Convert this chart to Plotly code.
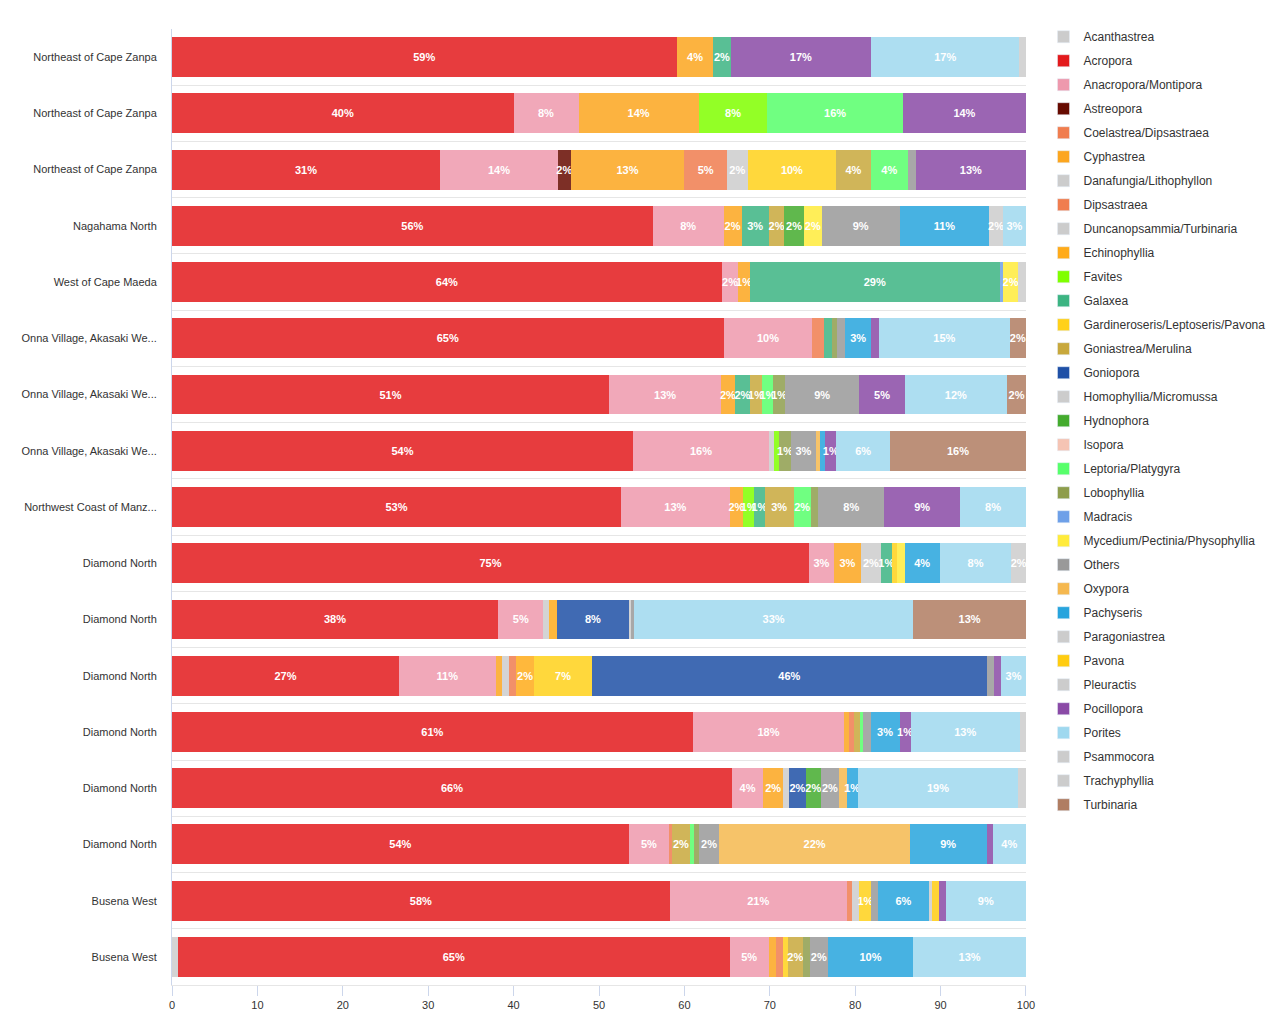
import plotly.graph_objects as go

sites = [
    "Northeast of Cape Zanpa", "Northeast of Cape Zanpa", "Northeast of Cape Zanpa",
    "Nagahama North", "West of Cape Maeda",
    "Onna Village, Akasaki We...", "Onna Village, Akasaki We...", "Onna Village, Akasaki We...",
    "Northwest Coast of Manz...",
    "Diamond North", "Diamond North", "Diamond North", "Diamond North", "Diamond North", "Diamond North",
    "Busena West", "Busena West",
]

# percent cover per genus, one value per site row (top to bottom)
acanthastrea   = [0, 0, 0, 0, 0, 0, 0, 0, 0, 0, 0, 0, 0, 0, 0, 0, 0.7]
acropora       = [59.1, 40.0, 31.4, 56.3, 64.4, 64.6, 51.2, 54.0, 52.6, 74.6, 38.2, 26.6, 61.0, 65.6, 53.5, 58.3, 64.6]
anacropora     = [0, 7.6, 13.8, 8.3, 1.9, 10.4, 13.1, 15.9, 12.7, 2.9, 5.3, 11.3, 17.7, 3.6, 4.7, 20.7, 4.6]
astreopora     = [0, 0, 1.5, 0, 0, 0, 0, 0, 0, 0, 0, 0, 0, 0, 0, 0, 0]
coelastrea     = [0, 0, 0, 0, 0, 0.5, 0, 0, 0, 0, 0, 0, 0, 0, 0, 0, 0]
cyphastrea     = [4.3, 14.1, 13.3, 2.1, 1.4, 0, 1.6, 0, 1.6, 3.2, 0, 0.8, 0.6, 2.4, 0, 0, 0.8]
danafungia     = [0, 0, 0, 0, 0, 0, 0, 0, 0, 0, 0, 0.8, 0, 0.7, 0, 0, 0]
dipsastraea    = [0, 0, 5.0, 0, 0, 0.9, 0, 0, 0, 0, 0, 0.8, 0.6, 0, 0.4, 0.6, 0.9]
duncanopsammia = [0, 0, 2.4, 0, 0, 0, 0, 0.6, 0, 2.3, 0.7, 0, 0, 0, 0, 0.9, 0]
echinophyllia  = [0, 0, 0, 0, 0, 0, 0, 0, 0, 0, 0.9, 2.1, 0, 0, 0, 0, 0]
favites        = [0, 8.0, 0, 0, 0, 0, 0, 0.6, 1.3, 0, 0, 0, 0, 0, 0, 0, 0]
galaxea        = [2.0, 0, 0, 3.2, 29.2, 0.9, 1.8, 0, 1.2, 1.3, 0, 0, 0, 0, 0, 0, 0]
gardineroseris = [0, 0, 10.4, 0, 0, 0, 0, 0, 0, 0.6, 0, 6.8, 0, 0, 0, 1.4, 0.5]
goniastrea     = [0, 0, 4.0, 1.8, 0, 0, 1.4, 0, 3.4, 0, 0, 0, 0.7, 0, 2.0, 0, 1.8]
goniopora      = [0, 0, 0, 0, 0, 0, 0, 0, 0, 0, 8.4, 46.2, 0, 1.9, 0, 0, 0]
homophyllia    = [0, 0, 0, 0, 0, 0, 0, 0, 0, 0, 0.3, 0, 0, 0, 0, 0, 0]
hydnophora     = [0, 0, 0, 2.3, 0, 0, 0, 0, 0, 0, 0, 0, 0, 1.8, 0, 0, 0]
isopora        = [0, 0, 0, 0, 0, 0, 0, 0, 0, 0, 0, 0, 0, 0, 0, 0, 0]
leptoria       = [0, 15.9, 4.4, 0, 0, 0, 1.3, 0, 2.0, 0, 0, 0, 0.3, 0, 0.5, 0, 0]
lobophyllia    = [0, 0, 0, 0, 0, 0.6, 1.4, 1.4, 0.9, 0, 0, 0, 0, 0, 0.6, 0, 0.8]
madracis       = [0, 0, 0, 0, 0.4, 0, 0, 0, 0, 0, 0, 0, 0, 0, 0, 0, 0]
mycedium       = [0, 0, 0, 2.1, 1.8, 0, 0, 0, 0, 0.9, 0, 0, 0, 0, 0, 0, 0]
others         = [0, 0, 0.9, 9.1, 0, 0.9, 8.7, 2.9, 7.7, 0, 0.3, 0.9, 0.9, 2.1, 2.4, 0.8, 2.1]
oxypora        = [0, 0, 0, 0, 0, 0, 0, 0.5, 0, 0, 0, 0, 0, 0.9, 22.3, 0, 0]
pachyseris     = [0, 0, 0, 10.5, 0, 3.1, 0, 0.6, 0, 4.1, 0, 0, 3.4, 1.3, 9.0, 5.9, 10.0]
paragoniastrea = [0, 0, 0, 1.6, 0, 0, 0, 0, 0, 0, 0, 0, 0, 0, 0, 0.4, 0]
pavona         = [0, 0, 0, 0, 0, 0, 0, 0, 0, 0, 0, 0, 0, 0, 0, 0.8, 0]
pleuractis     = [0, 0, 0, 0, 0, 0, 0, 0, 0, 0, 0, 0, 0, 0, 0, 0, 0]
pocillopora    = [16.5, 14.4, 12.9, 0, 0, 0.9, 5.3, 1.3, 8.9, 0, 0, 0.8, 1.3, 0, 0.7, 0.8, 0]
porites        = [17.3, 0, 0, 2.7, 0, 15.3, 12.0, 6.3, 7.7, 8.4, 32.7, 2.9, 12.8, 18.8, 3.9, 9.4, 13.2]
psammocora     = [0, 0, 0, 0, 0.9, 0, 0, 0, 0, 0, 0, 0, 0, 0, 0, 0, 0]
trachyphyllia  = [0.8, 0, 0, 0, 0, 0, 0, 0, 0, 1.7, 0, 0, 0.7, 0.9, 0, 0, 0]
turbinaria     = [0, 0, 0, 0, 0, 1.9, 2.2, 15.9, 0, 0, 13.2, 0, 0, 0, 0, 0, 0]

genera = [
    ("Acanthastrea", acanthastrea), ("Acropora", acropora),
    ("Anacropora/Montipora", anacropora), ("Astreopora", astreopora),
    ("Coelastrea/Dipsastraea", coelastrea), ("Cyphastrea", cyphastrea),
    ("Danafungia/Lithophyllon", danafungia), ("Dipsastraea", dipsastraea),
    ("Duncanopsammia/Turbinaria", duncanopsammia), ("Echinophyllia", echinophyllia),
    ("Favites", favites), ("Galaxea", galaxea),
    ("Gardineroseris/Leptoseris/Pavona", gardineroseris), ("Goniastrea/Merulina", goniastrea),
    ("Goniopora", goniopora), ("Homophyllia/Micromussa", homophyllia),
    ("Hydnophora", hydnophora), ("Isopora", isopora),
    ("Leptoria/Platygyra", leptoria), ("Lobophyllia", lobophyllia),
    ("Madracis", madracis), ("Mycedium/Pectinia/Physophyllia", mycedium),
    ("Others", others), ("Oxypora", oxypora),
    ("Pachyseris", pachyseris), ("Paragoniastrea", paragoniastrea),
    ("Pavona", pavona), ("Pleuractis", pleuractis),
    ("Pocillopora", pocillopora), ("Porites", porites),
    ("Psammocora", psammocora), ("Trachyphyllia", trachyphyllia),
    ("Turbinaria", turbinaria),
]

colors = [
    "#cccccc", "#e31a1c", "#ee99ad", "#660a00", "#f07d4f", "#fca61f",
    "#cccccc", "#f07d4f", "#cccccc", "#ffab1a", "#80ff00", "#3cb482",
    "#ffd11a", "#c8a83c", "#1f50a6", "#cccccc", "#44ab2e", "#f5c4b4",
    "#57ff6b", "#8e9d4c", "#6ea0e8", "#ffeb3b", "#999999", "#f5b84f",
    "#27a4dd", "#cccccc", "#ffcc11", "#cccccc", "#8a4aa6", "#9fd8ef",
    "#cccccc", "#cccccc", "#b07d62",
]

FONT = "Liberation Sans, Arial, Helvetica, sans-serif"
rows = list(range(len(sites)))

fig = go.Figure()
for (name, vals), col in zip(genera, colors):
    labels = [f"{int(v + 0.5)}%" if v >= 1 else "" for v in vals]
    fig.add_trace(go.Bar(
        name=name, y=rows, x=vals, orientation="h",
        marker=dict(color=col, opacity=0.85, line=dict(width=0)),
        text=labels, textposition="inside", insidetextanchor="middle",
        textangle=0, constraintext="none",
        textfont=dict(color="white", size=11, family=FONT, weight="bold"),
        legendgroup=name, showlegend=False, cliponaxis=False,
        hovertemplate=name + ": %{x}%<extra></extra>",
    ))
    # legend entry drawn at full colour
    fig.add_trace(go.Bar(
        name=name, y=[None], x=[None], orientation="h",
        marker=dict(color=col), legendgroup=name, showlegend=True,
        hoverinfo="skip",
    ))

half = [i - 0.5 for i in range(len(sites) + 1)]

fig.update_layout(
    width=1280, height=1020,
    margin=dict(l=172, r=254, t=29, b=35, autoexpand=False),
    barmode="stack", bargap=0.29,
    plot_bgcolor="white", paper_bgcolor="white",
    font=dict(family=FONT, color="#333333", size=11),
    uniformtext=dict(minsize=11, mode="show"),
    legend=dict(
        x=1.0205, xanchor="left", y=1.0071, yanchor="top",
        font=dict(size=12, color="#333333", family=FONT),
        traceorder="grouped", tracegroupgap=5,
        bgcolor="rgba(0,0,0,0)", maxheight=1.0,
    ),
    xaxis=dict(
        range=[0, 100.001], tickvals=list(range(0, 101, 10)),
        showgrid=False, zeroline=False,
        showline=True, linecolor="#e6e6e6", linewidth=1,
        ticks="outside", ticklen=10, tickcolor="#ccd6eb",
        tickfont=dict(size=11, color="#333333"),
    ),
    yaxis=dict(
        tickvals=rows, ticktext=sites, range=[len(sites) - 0.5, -0.5],
        showgrid=False, zeroline=False, ticks="",
        showline=True, linecolor="#ccd6eb", linewidth=1,
        ticklabelstandoff=12,
        tickfont=dict(size=11, color="#333333"),
        minor=dict(tickmode="array", tickvals=half, showgrid=True,
                   gridcolor="#e6e6e6", gridwidth=1, ticks=""),
    ),
)

fig.write_html("out.html")
